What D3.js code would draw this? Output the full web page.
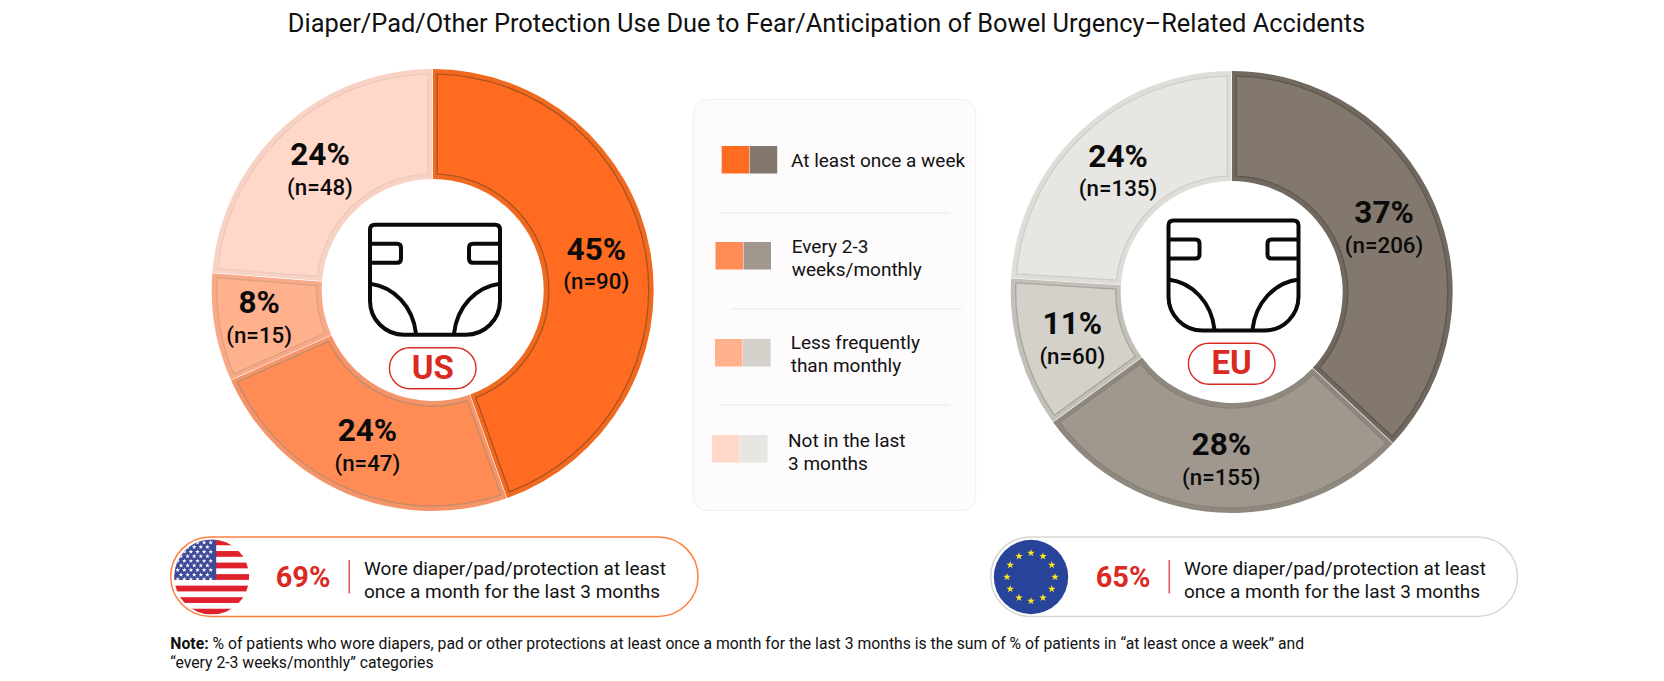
<!DOCTYPE html>
<html>
<head>
<meta charset="utf-8">
<script src="https://cdn.jsdelivr.net/npm/d3@7"></script>
<style>
html,body{margin:0;padding:0;background:#fff;overflow:hidden}
svg{display:block}
text{font-family:Roboto,sans-serif;fill:#111}
</style>
</head>
<body>
<svg id="chart" width="1664" height="681"></svg>
<script>
const categories = ["At least once a week", "Every 2-3 weeks/monthly", "Less frequently than monthly", "Not in the last 3 months"];
const usPercent = [45, 24, 8, 24];
const usCount = [90, 47, 15, 48];
const euPercent = [37, 28, 11, 24];
const euCount = [206, 155, 60, 135];
const usTotal = "69%";
const euTotal = "65%";

const usFill = ["#FF6B21", "#FF8C55", "#FFB08D", "#FFD8C9"];
const usBand = ["#F1691F", "#F59468", "#F9A988", "#F8D3C5"];
const usEdge = ["#A9521F", "#C48A6A", "#DDA083", "#EBC9BB"];
const euFill = ["#82786E", "#A0988F", "#D3D1CA", "#E8E6E2"];
const euBand = ["#716960", "#8F887F", "#C2C0B9", "#DEDDD8"];
const euEdge = ["#5F574E", "#8A8278", "#A9A69E", "#CFCDC7"];

const legendLines = [["At least once a week"], ["Every 2-3", "weeks/monthly"], ["Less frequently", "than monthly"], ["Not in the last", "3 months"]];
const titleText = "Diaper/Pad/Other Protection Use Due to Fear/Anticipation of Bowel Urgency\u2013Related Accidents";
const calloutLines = ["Wore diaper/pad/protection at least", "once a month for the last 3 months"];
const noteLine1 = " % of patients who wore diapers, pad or other protections at least once a month for the last 3 months is the sum of % of patients in \u201Cat least once a week\u201D and";
const noteLine2 = "\u201Cevery 2-3 weeks/monthly\u201D categories";

const svg = d3.select("#chart");
const RED = "#D92B24";

svg.append("text").attr("x", 826.5).attr("y", 32).attr("text-anchor", "middle")
  .attr("font-size", 25.4).attr("fill", "#111").text(titleText);

const defs = svg.append("defs");

function donut(cfg) {
  const R = 221, r = 111, inset = 5;
  const pie = d3.pie().sort(null).value(d => d.pct);
  const data = cfg.count.map((n, i) => ({ n, i, pct: cfg.pct[i] }));
  const arcs = pie(data);
  const g = svg.append("g").attr("transform", `translate(${cfg.cx},${cfg.cy})`);
  const base = d3.arc().innerRadius(r).outerRadius(R).padRadius(R).padAngle(0.6 / R);
  const inner = d3.arc().innerRadius(r + inset).outerRadius(R - inset).padRadius(R).padAngle(9 / R);
  const mid = d3.arc().innerRadius(r).outerRadius(R);

  g.selectAll("path.band").data(arcs).join("path").attr("class", "band")
    .attr("d", base).attr("fill", d => cfg.band[d.index]);
  g.selectAll("path.face").data(arcs).join("path").attr("class", "face")
    .attr("d", inner).attr("fill", d => cfg.fill[d.index])
    .attr("stroke", d => cfg.edge[d.index]).attr("stroke-width", 1.3);

  const lab = g.selectAll("g.lab").data(arcs).join("g").attr("class", "lab")
    .attr("transform", d => {
      const c = mid.centroid(d), n = cfg.nudge[d.index];
      return `translate(${c[0] + n[0]},${c[1] + n[1]})`;
    });
  lab.append("text").attr("text-anchor", "middle").attr("y", -4)
    .attr("font-size", 31.5).attr("font-weight", 700).style("fill", "#0B0B0B")
    .text(d => d.data.pct + "%");
  lab.append("text").attr("text-anchor", "middle").attr("y", 25.5)
    .attr("font-size", 22.3).attr("font-weight", 500).style("fill", "#0B0B0B")
    .text(d => `(n=${d.data.n})`);

  // diaper icon
  const ic = svg.append("g").attr("transform", `translate(${cfg.ix},${cfg.iy})`)
    .attr("fill", "none").attr("stroke", "#0A0A0A").attr("stroke-width", 4).attr("stroke-linejoin", "round");
  ic.append("path").attr("d", "M0,5 Q0,0 5,0 H125 Q130,0 130,5 V76 A34,34 0 0 1 96,110 H34 A34,34 0 0 1 0,76 Z");
  ic.append("path").attr("d", "M0,19 H27 Q31,19 31,23 V34 Q31,38 27,38 H0");
  ic.append("path").attr("d", "M130,19 H103 Q99,19 99,23 V34 Q99,38 103,38 H130");
  ic.append("path").attr("d", "M0,59 C24,62 43,82 46,109");
  ic.append("path").attr("d", "M130,59 C106,62 87,82 84,109");

  // region pill
  svg.append("rect").attr("x", cfg.cx - 43.3).attr("y", cfg.py).attr("width", 86.6).attr("height", 41).attr("rx", 20.5)
    .attr("fill", "#fff").attr("stroke", RED).attr("stroke-width", 1.4);
  svg.append("text").attr("x", cfg.cx).attr("y", cfg.py + 31).attr("text-anchor", "middle")
    .attr("font-size", 33).attr("font-weight", 700).style("fill", RED).text(cfg.name);
}

donut({ name: "US", cx: 432.7, cy: 290, pct: usPercent, count: usCount, fill: usFill, band: usBand, edge: usEdge,
  nudge: [[0, 2], [0, 2.5], [-10, -1], [0, 1]], ix: 370, iy: 224.7, py: 347.7 });
donut({ name: "EU", cx: 1231.7, cy: 292, pct: euPercent, count: euCount, fill: euFill, band: euBand, edge: euEdge,
  nudge: [[0, 1], [0, 1.5], [0, 0], [0, 0]], ix: 1168.5, iy: 220.5, py: 343.3 });

// legend panel
svg.append("rect").attr("x", 693.3).attr("y", 99.5).attr("width", 282.4).attr("height", 411).attr("rx", 14)
  .attr("fill", "#FDFBFC").attr("stroke", "#F1EFEF").attr("stroke-width", 1);

const legendX = [721.7, 715.5, 715, 712];
const legendY = [146, 242, 339, 435];
const legendTextX = [791, 791.7, 790.7, 788];
const legendBase = [[166.7], [253, 276], [349, 372], [447, 469.5]];
const dividers = [[719, 950, 213], [731, 962, 309], [719, 950, 405]];

categories.forEach((c, i) => {
  svg.append("rect").attr("x", legendX[i]).attr("y", legendY[i]).attr("width", 27.5).attr("height", 27.5).attr("fill", usFill[i]);
  svg.append("rect").attr("x", legendX[i] + 28).attr("y", legendY[i]).attr("width", 27.5).attr("height", 27.5).attr("fill", euFill[i]);
  legendLines[i].forEach((t, j) => {
    svg.append("text").attr("x", legendTextX[i]).attr("y", legendBase[i][j]).attr("font-size", 19).text(t);
  });
});
dividers.forEach(d => {
  svg.append("line").attr("x1", d[0]).attr("x2", d[1]).attr("y1", d[2]).attr("y2", d[2]).attr("stroke", "#E9E7E7").attr("stroke-width", 1);
});

// callouts
function callout(x0, x1, border, total) {
  svg.append("rect").attr("x", x0).attr("y", 537).attr("width", x1 - x0).attr("height", 79.4).attr("rx", 39.7)
    .attr("fill", "#fff").attr("stroke", border).attr("stroke-width", 1.5);
  svg.append("text").attr("x", x0 + 105).attr("y", 586.7).attr("font-size", 29).attr("font-weight", 700)
    .style("fill", RED).text(total);
  svg.append("line").attr("x1", x0 + 178.5).attr("x2", x0 + 178.5).attr("y1", 560).attr("y2", 593.5).attr("stroke", RED).attr("stroke-width", 1.2);
  calloutLines.forEach((t, j) => {
    svg.append("text").attr("x", x0 + 193.3).attr("y", 575 + j * 22.7).attr("font-size", 19).text(t);
  });
}
callout(170.7, 698, "#FF7F3F", usTotal);
callout(990.7, 1517.5, "#D9D7D0", euTotal);

// US flag
(function () {
  const cx = 211.7, cy = 577, rad = 37.5;
  defs.append("clipPath").attr("id", "usClip").append("circle").attr("cx", cx).attr("cy", cy).attr("r", rad);
  const f = svg.append("g").attr("clip-path", "url(#usClip)");
  f.append("rect").attr("x", cx - rad).attr("y", cy - rad).attr("width", 2 * rad).attr("height", 2 * rad).attr("fill", "#fff");
  const h = 2 * rad / 13;
  d3.range(0, 13, 2).forEach(k => {
    f.append("rect").attr("x", cx - rad).attr("y", cy - rad + k * h).attr("width", 2 * rad).attr("height", h).attr("fill", "#E0202A");
  });
  f.append("rect").attr("x", cx - rad).attr("y", cy - rad).attr("width", rad + 4.5).attr("height", 7 * h).attr("fill", "#3E4A98");
  const star = d3.symbol().type(d3.symbolStar).size(7);
  d3.range(9).forEach(row => {
    const n = row % 2 ? 5 : 6;
    d3.range(n).forEach(col => {
      f.append("path").attr("d", star).attr("fill", "#fff")
        .attr("transform", `translate(${cx - rad + 3.5 + (row % 2 ? 3.3 : 0) + col * 6.6},${cy - rad + 3 + row * 4.6})`);
    });
  });
})();

// EU flag
(function () {
  const cx = 1031, cy = 577, rad = 37.2, ring = 24;
  svg.append("circle").attr("cx", cx).attr("cy", cy).attr("r", rad).attr("fill", "#27439A");
  const star = d3.symbol().type(d3.symbolStar).size(18);
  d3.range(12).forEach(k => {
    const a = k * Math.PI / 6;
    svg.append("path").attr("d", star).attr("fill", "#FFE81F")
      .attr("transform", `translate(${cx + ring * Math.sin(a)},${cy - ring * Math.cos(a)})`);
  });
})();

// note
const note = svg.append("text").attr("x", 170.3).attr("y", 649).attr("font-size", 15.75);
note.append("tspan").attr("font-weight", 700).text("Note:");
note.append("tspan").text(noteLine1);
svg.append("text").attr("x", 170.3).attr("y", 668).attr("font-size", 15.75).text(noteLine2);
</script>
</body>
</html>
